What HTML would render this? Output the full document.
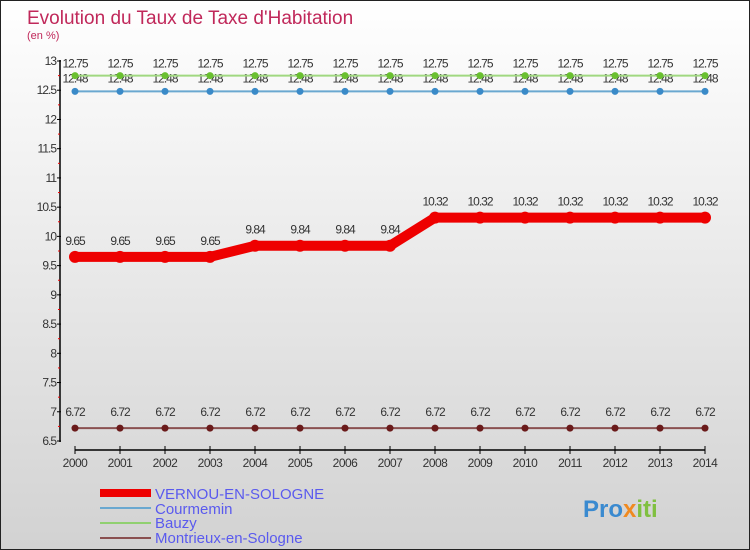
<!DOCTYPE html>
<html><head><meta charset="utf-8"><style>
body{margin:0;width:750px;height:550px;overflow:hidden;font-family:"Liberation Sans",sans-serif}
svg{display:block}
</style></head><body>
<svg width="750" height="550">
<defs><linearGradient id="bg" x1="0" y1="0" x2="0" y2="1"><stop offset="0" stop-color="#ffffff"/><stop offset="1" stop-color="#d2d2d2"/></linearGradient></defs>
<rect x="0.5" y="0.5" width="749" height="549" fill="url(#bg)" stroke="#222"/>
<text x="27" y="24" font-size="19" fill="#c0285a">Evolution du Taux de Taxe d'Habitation</text>
<text x="27" y="39" font-size="11" fill="#c0285a">(en %)</text>
<g id="axes"></g>
<g id="series"></g>
<g>
<rect x="100" y="489" width="51" height="8" fill="#ee0000"/>
<text x="155" y="499" font-size="15" fill="#5a5aee">VERNOU-EN-SOLOGNE</text>
<rect x="100" y="507" width="51" height="2" fill="#6aa8d0"/>
<text x="155" y="514" font-size="15" fill="#5a5aee">Courmemin</text>
<rect x="100" y="522" width="51" height="2" fill="#90d070"/>
<text x="155" y="528" font-size="15" fill="#5a5aee">Bauzy</text>
<rect x="100" y="537" width="51" height="2" fill="#8a5050"/>
<text x="155" y="543" font-size="15" fill="#5a5aee">Montrieux-en-Sologne</text>
</g>
<text x="583" y="517" font-size="24" font-weight="bold" fill="#3a8ad0">Pro<tspan fill="#f08a20">x</tspan><tspan fill="#80c040">iti</tspan></text>
</svg>
<script>
const years=[2000,2001,2002,2003,2004,2005,2006,2007,2008,2009,2010,2011,2012,2013,2014];
const yTicks=[6.5,7,7.5,8,8.5,9,9.5,10,10.5,11,11.5,12,12.5,13];
const vernou=[9.65,9.65,9.65,9.65,9.84,9.84,9.84,9.84,10.32,10.32,10.32,10.32,10.32,10.32,10.32];
const courmemin=[12.48,12.48,12.48,12.48,12.48,12.48,12.48,12.48,12.48,12.48,12.48,12.48,12.48,12.48,12.48];
const bauzy=[12.75,12.75,12.75,12.75,12.75,12.75,12.75,12.75,12.75,12.75,12.75,12.75,12.75,12.75,12.75];
const montrieux=[6.72,6.72,6.72,6.72,6.72,6.72,6.72,6.72,6.72,6.72,6.72,6.72,6.72,6.72,6.72];
const NS='http://www.w3.org/2000/svg';
function xs(i){return 75+i*45;}
function ys(v){return 441-(v-6.5)/6.5*380;}
function mk(tag,attrs,parent,txt){const e=document.createElementNS(NS,tag);for(const k in attrs)e.setAttribute(k,attrs[k]);if(txt!==undefined)e.textContent=txt;parent.appendChild(e);return e;}
const ax=document.getElementById('axes');
let l=mk('line',{x1:60,y1:60,x2:60,y2:442,stroke:'#000','stroke-width':1.5},ax);


yTicks.forEach((t,i)=>{
 const y=ys(t);
 mk('line',{x1:57,y1:y,x2:61,y2:y,stroke:'#000'},ax);
 if(i<yTicks.length-1) mk('line',{x1:58,y1:y-14.6,x2:60,y2:y-14.6,stroke:'#e00'},ax);
 const tx=mk('text',{x:56,y:y+4,'font-size':12,'text-anchor':'end',fill:'#333','letter-spacing':'-1'},ax,String(t));
 
 
});
let xa=mk('line',{x1:75,y1:450,x2:705,y2:450,stroke:'#000','stroke-width':1.5},ax);


years.forEach((yr,i)=>{
 mk('line',{x1:xs(i),y1:446,x2:xs(i),y2:454,stroke:'#000'},ax);
 const tx=mk('text',{x:xs(i),y:467,'font-size':12,'text-anchor':'middle',fill:'#333','letter-spacing':'-0.5'},ax,String(yr));
 
 
});
const sg=document.getElementById('series');
function draw(name,vals,color,w,r,dot,labOff){
 const g=mk('g',{},sg);
 
 
 mk('polyline',{points:vals.map((v,i)=>xs(i)+','+ys(v)).join(' '),fill:'none',stroke:color,'stroke-width':w,'stroke-linejoin':'round'},g);
 vals.forEach((v,i)=>{
  const c=mk('circle',{cx:xs(i),cy:ys(v),r:r,fill:dot},g);
  
  
  const t=mk('text',{x:xs(i),y:ys(v)+labOff,'font-size':12,'text-anchor':'middle',fill:'#333','letter-spacing':'-1'},g,String(v));
  
  
 });
}
draw('montrieux',montrieux,'#8a5050',2,3.5,'#6a1a1a',-12);
draw('courmemin',courmemin,'#6aa8d0',2,3.5,'#3a8ac8',-9);
draw('bauzy',bauzy,'#a0d880',2,3.5,'#6ac030',-8);
draw('vernou',vernou,'#ee0000',10,6,'#ee0000',-12);
</script>
</body></html>
